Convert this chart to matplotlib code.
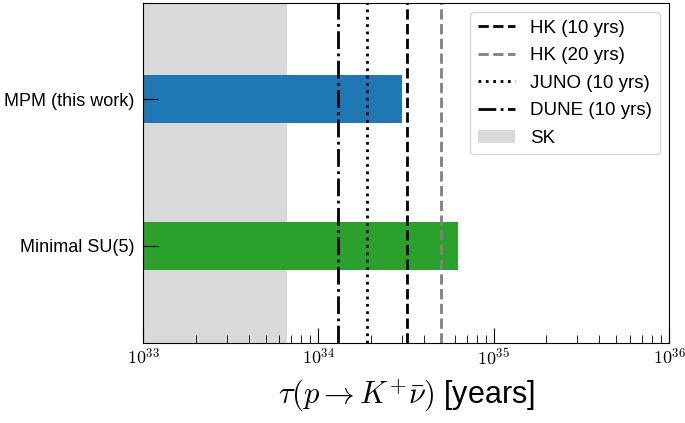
import math
import matplotlib
matplotlib.use("Agg")
import matplotlib.pyplot as plt
from matplotlib.ticker import FuncFormatter, LogLocator

# Model predictions (upper end of each bar, in years)
models = ["Minimal SU(5)", "MPM (this work)"]
model_tau = [6.3e34, 3.0e34]
model_colors = ["#2ca02c", "#1f77b4"]

# Experimental sensitivities / bounds (years)
sk_bound = 6.6e33
exp_labels = ["HK (10 yrs)", "HK (20 yrs)", "JUNO (10 yrs)", "DUNE (10 yrs)"]
exp_tau = [3.2e34, 5.0e34, 1.9e34, 1.3e34]
exp_colors = ["black", "gray", "black", "black"]
exp_styles = ["--", "--", ":", "-."]

x_min, x_max = 1e33, 1e36

plt.rcParams["font.family"] = ["Liberation Sans", "DejaVu Sans"]
plt.rcParams["mathtext.fontset"] = "cm"

fig = plt.figure(figsize=(6.85, 4.23), dpi=100)
ax = fig.add_axes([0.2088, 0.1898, 0.7678, 0.8031])

# SK excluded region
ax.axvspan(x_min, sk_bound, color="0.85", lw=0, label="SK", zorder=0)

# Bars for the models
ypos = list(range(len(models)))
ax.barh(ypos, [t - x_min for t in model_tau], left=x_min, height=0.33,
        color=model_colors, zorder=1)

# Future sensitivities
for lab, t, c, ls in zip(exp_labels, exp_tau, exp_colors, exp_styles):
    ax.axvline(t, color=c, ls=ls, lw=2, label=lab, zorder=2)

ax.set_xscale("log")
ax.set_xlim(x_min, x_max)
ax.set_ylim(-0.662, 1.657)
ax.set_yticks(ypos)
ax.set_yticklabels(models, fontsize=13)

ax.xaxis.set_major_locator(LogLocator(base=10, numticks=10))
ax.xaxis.set_major_formatter(FuncFormatter(lambda v, p: r"$10^{%d}$" % round(math.log10(v))))
ax.tick_params(axis="x", which="major", direction="in", length=10.8, labelsize=13, pad=4)
ax.tick_params(axis="x", which="minor", direction="in", length=5.5)
ax.tick_params(axis="y", which="major", direction="in", length=10.8, pad=6)
ax.tick_params(axis="y", which="minor", left=False)

ax.set_xlabel(r"$\tau(p \to K^{+}\bar{\nu})$ [years]", fontsize=22, labelpad=6)

# legend order: lines first, then SK patch
handles, labels = ax.get_legend_handles_labels()
order = [labels.index(l) for l in exp_labels + ["SK"]]
ax.legend([handles[i] for i in order], [labels[i] for i in order],
          loc="upper right", fontsize=13.5, labelspacing=0.55)

fig.savefig("out.png", dpi=100)
